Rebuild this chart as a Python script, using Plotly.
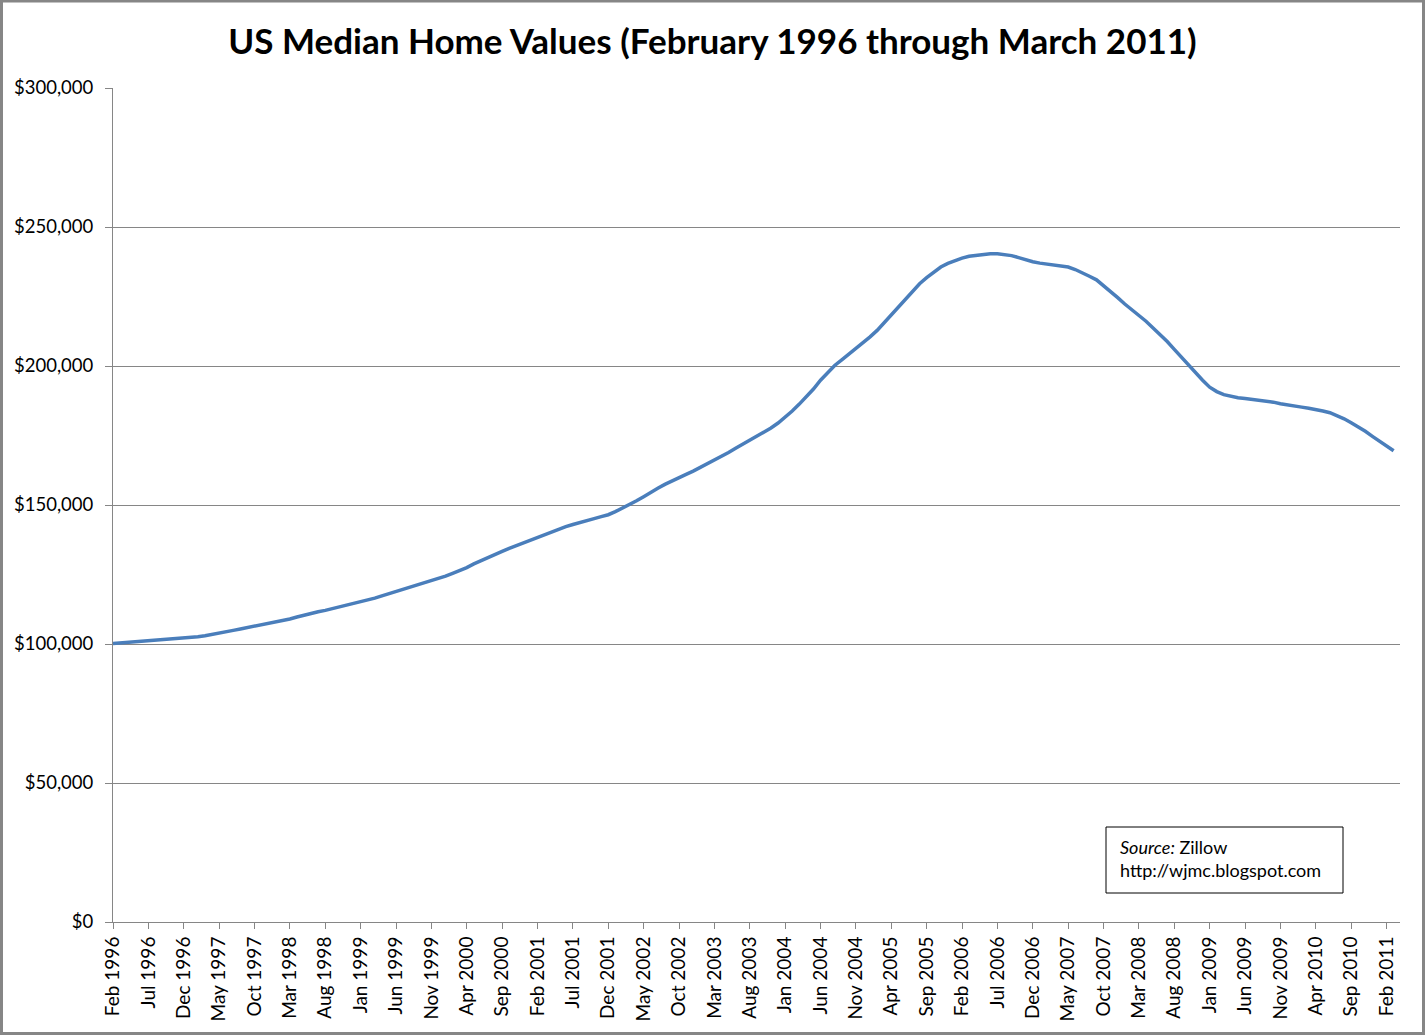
import plotly.graph_objects as go

# Monthly median home values (thousands of USD), Feb 1996 .. Mar 2011 (182 months)
values_k = [
    100.2, 100.4, 100.6, 100.7, 100.9, 101.1, 101.2, 101.4, 101.6, 101.8,
    102.0, 102.3, 102.6, 103.0, 103.4, 103.9, 104.4, 104.9, 105.4, 105.9,
    106.3, 106.8, 107.3, 107.9, 108.5, 109.0, 109.7, 110.4, 111.0, 111.6,
    112.1, 112.7, 113.3, 113.9, 114.5, 115.1, 115.8, 116.5, 117.3, 118.1,
    118.8, 119.5, 120.3, 121.1, 121.8, 122.6, 123.4, 124.4, 125.4, 126.4,
    127.5, 128.8, 130.0, 131.1, 132.2, 133.3, 134.4, 135.4, 136.3, 137.4,
    138.4, 139.5, 140.4, 141.4, 142.2, 143.0, 143.8, 144.5, 145.1, 145.8,
    146.5, 147.6, 148.8, 150.0, 151.5, 153.0, 154.6, 156.0, 157.4, 158.7,
    160.0, 161.0, 162.2, 163.5, 164.8, 166.0, 167.4, 168.9, 170.4, 171.8,
    173.2, 174.7, 176.3, 177.7, 179.5, 181.6, 183.8, 186.3, 188.9, 191.7,
    194.9, 197.6, 200.2, 202.2, 204.2, 206.3, 208.4, 210.5, 212.8, 215.6,
    218.6, 221.5, 224.3, 227.0, 229.6, 231.8, 233.8, 235.6, 236.9, 238.0,
    238.8, 239.5, 239.9, 240.2, 240.4, 240.4, 240.2, 239.7, 239.0, 238.1,
    237.5, 237.0, 236.7, 236.4, 236.2, 235.6, 234.7, 233.6, 232.3, 231.0,
    229.0, 226.9, 224.6, 222.3, 220.3, 218.0, 216.1, 213.7, 211.3, 208.8,
    206.0, 203.2, 200.3, 197.4, 194.9, 192.4, 190.8, 189.7, 189.0, 188.6,
    188.3, 188.0, 187.7, 187.4, 187.0, 186.4, 185.9, 185.6, 185.2, 184.8,
    184.4, 183.8, 183.2, 182.2, 181.0, 179.6, 178.1, 176.5, 174.7, 172.9,
    171.3, 169.5,
]

tick_labels = [
    "Feb 1996", "Jul 1996", "Dec 1996", "May 1997", "Oct 1997", "Mar 1998",
    "Aug 1998", "Jan 1999", "Jun 1999", "Nov 1999", "Apr 2000", "Sep 2000",
    "Feb 2001", "Jul 2001", "Dec 2001", "May 2002", "Oct 2002", "Mar 2003",
    "Aug 2003", "Jan 2004", "Jun 2004", "Nov 2004", "Apr 2005", "Sep 2005",
    "Feb 2006", "Jul 2006", "Dec 2006", "May 2007", "Oct 2007", "Mar 2008",
    "Aug 2008", "Jan 2009", "Jun 2009", "Nov 2009", "Apr 2010", "Sep 2010",
    "Feb 2011",
]
tick_step_months = 5

title_text = "US Median Home Values (February 1996 through March 2011)"
source_text = "<i>Source:</i> Zillow<br>http://wjmc.blogspot.com"

month_index = list(range(len(values_k)))
values = [v * 1000 for v in values_k]
tick_positions = [i * tick_step_months for i in range(len(tick_labels))]

W, H = 1425, 1035
L, R, T, B = 113, 25, 88, 113
pw, ph = W - L - R, H - T - B


def px_x(x):
    return (x - L) / pw


def px_y(y):
    return (H - B - y) / ph


grid = "#868686"
font_family = "Lato, Calibri, Carlito, sans-serif"

fig = go.Figure()
fig.add_trace(go.Scatter(
    x=month_index, y=values, mode="lines",
    line=dict(color="#4A7EBB", width=3.5),
    showlegend=False, hoverinfo="skip",
))

fig.update_layout(
    width=W, height=H,
    margin=dict(l=L, r=R, t=T, b=B),
    paper_bgcolor="white", plot_bgcolor="white",
    font=dict(family=font_family, color="black"),
    title=dict(
        text="<b>" + title_text + "</b>",
        x=0.5, xanchor="center", xref="container",
        y=1 - 42 / H, yanchor="middle", yref="container",
        font=dict(size=35, family=font_family, color="black"),
    ),
    xaxis=dict(
        range=[0, 181.9],
        tickmode="array", tickvals=tick_positions, ticktext=tick_labels,
        tickangle=-90, tickfont=dict(size=19),
        ticks="outside", ticklen=6, tickcolor=grid, tickwidth=1,
        showline=True, linecolor=grid, linewidth=1,
        showgrid=False, zeroline=False,
    ),
    yaxis=dict(
        range=[0, 300000], dtick=50000,
        tickprefix="$", tickformat=",d", tickfont=dict(size=18.5),
        ticks="outside", ticklen=7, tickcolor=grid, tickwidth=1,
        ticklabelstandoff=8,
        showline=True, linecolor=grid, linewidth=1,
        showgrid=True, gridcolor=grid, gridwidth=1,
        zeroline=False,
    ),
    shapes=[
        dict(type="rect", xref="paper", yref="paper",
             x0=px_x(1.5), x1=px_x(W - 1.5), y0=px_y(H - 1.5), y1=px_y(1),
             line=dict(color=grid, width=3), fillcolor="rgba(0,0,0,0)"),
        dict(type="rect", xref="paper", yref="paper",
             x0=px_x(1106), x1=px_x(1343), y0=px_y(893), y1=px_y(827),
             line=dict(color="black", width=1), fillcolor="white"),
    ],
    annotations=[
        dict(text=source_text, xref="paper", yref="paper",
             x=px_x(1118), y=px_y(834), xanchor="left", yanchor="top",
             align="left", showarrow=False,
             font=dict(size=18, family=font_family, color="black")),
    ],
)

fig.write_html(
    "out.html",
    config={"displayModeBar": False},
    post_script="document.body.style.margin='0';document.body.style.padding='0';",
)
